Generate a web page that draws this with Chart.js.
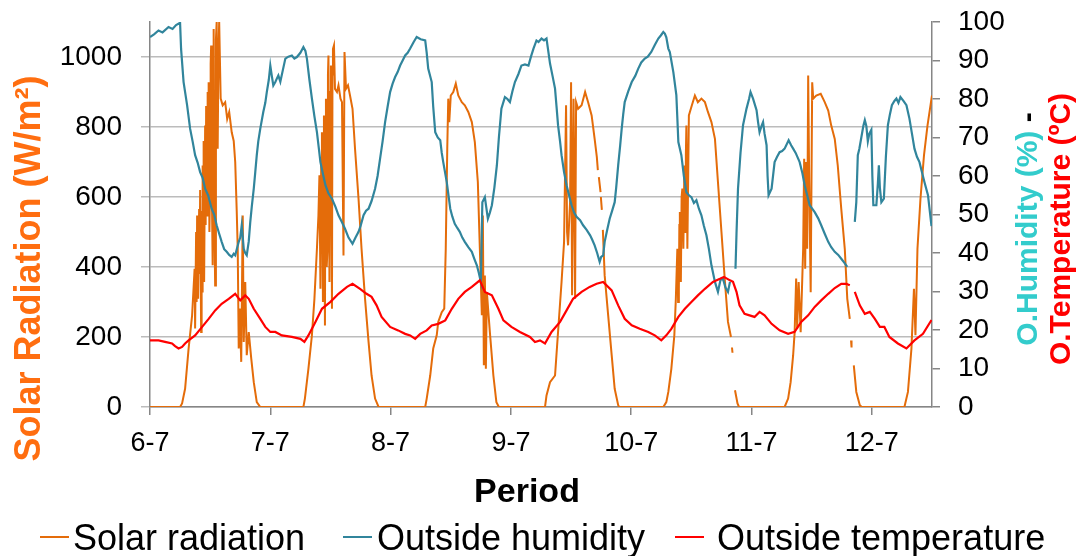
<!DOCTYPE html>
<html><head><meta charset="utf-8">
<script src="https://cdn.jsdelivr.net/npm/chart.js@4/dist/chart.umd.min.js"></script>
<style>html,body{margin:0;padding:0;background:#fff;}canvas{display:block;}</style>
</head><body>
<canvas id="c" width="1079" height="556"></canvas>
<script>
// ---- data (hours from 6-7 00:00, value) ----
const dayLabels = ['6-7','7-7','8-7','9-7','10-7','11-7','12-7'];
const leftTicks = [0,200,400,600,800,1000];
const rightTicks = [0,10,20,30,40,50,60,70,80,90,100];
const seriesNames = ['Solar radiation','Outside humidity','Outside temperature'];

const solarSeries = [
[0,0],[6.0,0],[6.4,10],[7.0,52],[7.7,167],[8.4,262],[8.9,395],[9.0,224],[9.2,500],[9.3,300],[9.4,547],[9.6,309],[9.8,566],[9.9,380],[10.0,620],[10.2,214],[10.3,560],[10.4,330],[10.5,690],[10.6,420],[10.7,760],[10.8,357],[11.0,804],[11.1,520],[11.2,860],[11.4,547],[11.5,900],[11.6,620],[11.7,928],[11.85,500],[12.0,643],[12.1,980],[12.2,1033],[12.35,600],[12.5,405],[12.6,1000],[12.7,1080],[12.85,520],[13.0,347],[13.15,1050],[13.3,1100],[13.5,738],[13.65,1000],[13.8,1100],[14.1,881],[14.5,862],[15.0,871],[15.4,823],[15.8,843],[16.3,785],[16.7,760],[17.0,700],[17.3,560],[17.5,452],[17.7,167],[17.9,281],[18.2,129],[18.5,547],[18.7,186],[19.0,357],[19.3,148],[19.7,214],[20.2,138],[20.7,71],[21.3,14],[22.0,0],
[30.6,0],[30.9,24],[31.6,109],[32.3,205],[32.8,309],[33.3,452],[33.6,547],[33.8,662],[34.0,338],[34.15,700],[34.3,785],[34.5,300],[34.6,760],[34.7,833],[34.9,233],[35.0,800],[35.1,881],[35.25,400],[35.4,452],[35.5,950],[35.6,1004],[35.8,357],[35.95,900],[36.1,976],[36.3,281],[36.4,950],[36.5,1023],[36.7,1033],[36.9,909],[37.3,900],[37.6,919],[38.0,881],[38.3,871],[38.6,433],[38.8,1014],[39.1,909],[39.5,919],[39.9,890],[40.4,852],[40.9,738],[41.6,595],[42.2,452],[42.9,309],[43.6,186],[44.2,90],[44.9,24],[45.6,0],
[54.9,0],[55.2,24],[55.9,90],[56.5,167],[57.2,205],[57.5,243],[58.2,271],[58.7,281],[59.0,452],[59.3,738],[59.5,881],[59.7,814],[60.0,890],[60.5,900],[61.0,924],[61.5,890],[62.2,871],[62.8,862],[63.5,843],[64.2,814],[64.8,757],[65.4,643],[65.8,452],[66.2,262],[66.4,547],[66.6,119],[66.8,376],[67.0,109],[67.2,328],[67.8,214],[68.5,90],[69.1,14],[69.6,0],
[78.8,0],[79.1,33],[79.8,71],[80.8,90],[81.4,214],[82.1,357],[82.6,471],[83.0,862],[83.2,500],[83.4,462],[83.8,585],[84.0,928],[84.2,319],[84.5,881],[84.8,309],[85.0,871],[85.4,852],[86.1,862],[86.8,900],[87.4,871],[88.1,833],[88.7,766],[89.14,714],[89.34,677],[89.44,null],[89.54,657],[89.88,614],[89.91,null],[89.94,600],[90.14,563],[90.24,null],[90.34,506],[90.7,376],[91.4,262],[92.1,148],[92.7,52],[93.4,5],[93.6,0],
[102.4,0],[103.0,14],[103.4,43],[104.0,109],[104.6,205],[104.9,309],[105.2,452],[105.35,300],[105.5,338],[105.6,520],[105.7,557],[105.9,357],[106.05,600],[106.2,624],[106.4,452],[106.6,690],[106.8,500],[106.9,720],[107.0,804],[107.2,452],[107.5,833],[107.7,843],[108.1,862],[108.7,890],[109.3,871],[110.0,881],[110.7,871],[111.3,843],[112.0,814],[112.7,766],[113.3,643],[114.0,500],[114.7,357],[115.3,243],[115.9,200],[116.0,null],[116.1,170],[116.2,155],[116.4,null],[116.7,48],[117.2,10],[117.5,0],
[126.6,0],[127.3,24],[127.8,71],[128.3,148],[128.6,214],[128.9,367],[129.1,224],[129.4,357],[129.8,214],[130.3,452],[130.5,709],[130.7,395],[130.9,700],[131.1,452],[131.3,947],[131.5,643],[131.8,328],[132.1,928],[132.3,881],[132.9,890],[133.8,895],[134.6,871],[135.3,847],[135.9,804],[136.6,766],[137.2,690],[137.9,566],[138.6,452],[139.1,309],[139.6,252],[139.75,null],[139.85,190],[139.95,170],[140.1,null],[140.4,119],[140.9,43],[141.6,5],[142.0,0],
[150.5,0],[151.2,43],[151.9,167],[152.4,338],[152.7,205],[153.1,452],[153.7,595],[154.4,719],[155.1,804],[155.9,881],[156,890]
];

const humiditySeries = [
[0,96.1],[0.8,96.8],[1.7,97.8],[2.5,97.3],[3.7,98.7],[4.5,98.2],[5.2,99.2],[6.0,99.8],[6.2,93],[6.7,84.4],[7.4,78.4],[8.0,72.3],[8.5,69],[9.0,65.4],[9.5,63.5],[10.0,61],[10.5,59.5],[11.0,56.7],[11.6,55],[12.3,51.5],[12.8,50],[13.3,47.2],[13.8,45],[14.3,42.9],[14.8,41],[15.3,40.3],[15.8,39.5],[16.3,39],[16.7,39.8],[17.0,39.4],[17.7,42.9],[18.0,44],[18.3,47.2],[18.7,41.1],[19.0,40],[19.3,39.4],[19.7,43],[20.0,48],[20.3,52],[20.7,56.7],[21.0,61],[21.3,65.4],[21.6,69],[22.0,72.3],[22.6,76.6],[23.0,79],[23.3,81.8],[23.7,85],[24.0,88.7],[24.3,86],[24.6,83.5],[25.0,84.4],[25.3,85.3],[25.6,86.1],[26.0,84.5],[26.5,87.5],[27.0,90.5],[27.6,91],[28.3,91.3],[28.8,90.5],[29.3,90.9],[30.0,92],[30.6,93.5],[31.0,92.5],[31.3,90.5],[31.8,85],[32.3,80.1],[32.8,75.5],[33.3,71.4],[33.7,67],[34.0,63.6],[34.5,60.5],[35.0,57.6],[35.6,55.5],[36.3,54.1],[37.0,52],[37.6,49.8],[38.3,48],[38.9,46.3],[39.6,44],[40.4,42.4],[41.0,44],[41.6,45.5],[42.0,47],[42.6,49.8],[43.1,51],[43.6,51.5],[44.2,53.5],[44.9,56.7],[45.4,60],[45.9,64.5],[46.4,69],[46.9,74],[47.4,78],[47.9,81.8],[48.4,84],[48.9,85.7],[49.4,87],[49.9,88.7],[50.4,90],[50.9,91.3],[51.4,92],[51.9,93.1],[52.6,94.8],[53.2,96.1],[54.0,95.5],[54.9,95.2],[55.2,92],[55.5,87.9],[56.2,84.4],[56.5,78],[56.9,71.4],[57.4,70],[57.9,69.3],[58.2,66],[58.5,63.6],[59.2,58.4],[59.9,51.5],[60.3,49.5],[60.8,47.6],[61.3,46.5],[61.8,45.5],[62.3,44],[62.8,42.9],[63.5,41.5],[64.2,40.3],[64.7,38.5],[65.2,36.8],[65.6,34.8],[66.0,32.5],[66.3,53.2],[66.8,54.5],[67.4,48.9],[67.8,50.5],[68.2,52.4],[68.7,57],[69.2,62.8],[69.6,70],[70.1,77.5],[70.8,80.5],[71.3,80],[71.8,79.2],[72.3,82],[72.8,84.4],[73.5,86.5],[74.1,88.7],[74.8,89],[75.5,88.7],[76.0,91],[76.5,93.1],[77.1,95.2],[77.5,94.8],[78.1,95.7],[78.6,95.2],[79.1,95.7],[79.5,92],[79.8,89.2],[80.3,86],[80.8,82.7],[81.1,78],[81.4,73.2],[81.8,69],[82.1,65.4],[82.6,61],[83.1,57.6],[83.6,55],[84.1,52.4],[84.6,50.5],[85.1,49.4],[85.8,48.5],[86.4,47.2],[87.1,46],[87.8,44.6],[88.2,43.5],[88.7,42],[89.2,40],[89.7,37.7],[90.0,39],[90.4,39.4],[90.7,42.9],[91.2,46],[91.7,48.9],[92.2,51],[92.7,53.2],[93.0,57],[93.4,62.8],[93.8,68],[94.1,72.3],[94.4,76],[94.7,79.2],[95.4,82],[96.1,84.4],[96.8,86],[97.4,87.9],[98.0,89.5],[98.7,90.5],[99.3,91],[100.0,92.2],[100.7,94],[101.4,95.7],[101.9,96.5],[102.4,97.4],[102.7,97],[103.0,96],[103.4,93.1],[103.7,92.2],[104.4,87],[105.0,81],[105.2,75],[105.4,68.8],[106.0,65.4],[106.5,60],[107.0,55.8],[107.5,55],[108.0,54.5],[108.5,53],[109.0,53.7],[109.5,51.5],[110.0,49.8],[110.5,47],[111.0,44.6],[111.5,41],[112.0,36.8],[112.7,32.5],[113.3,29.9],[113.8,33],[114.3,33.3],[114.8,31],[115.3,29.9],[115.7,32.5],[116.2,null],[116.8,35.9],[117.0,45],[117.3,56.7],[117.8,66],[118.3,73.2],[119.0,77.5],[119.5,80],[119.8,81.8],[120.3,80.1],[121.0,77.1],[121.3,74],[121.6,71.4],[122.0,73],[122.3,74],[122.6,71],[123.0,68],[123.2,60],[123.4,55],[124.0,56.7],[124.6,63.6],[125.1,65],[125.6,66.2],[126.1,66.5],[126.6,67.1],[127.4,69.3],[127.9,68],[128.3,67.1],[128.8,66],[129.3,64.5],[129.6,63.6],[130.1,61],[130.6,57.6],[131.1,55],[131.6,52.4],[132.1,51.5],[132.6,50.6],[133.3,49],[133.9,47.2],[134.6,45],[135.3,42.9],[135.9,41.5],[136.6,40.3],[137.3,39.5],[137.9,38.5],[138.5,37.5],[139.1,36.4],[139.8,null],[140.6,48.1],[140.9,53.2],[141.2,65.4],[141.5,67],[141.9,70],[142.3,73],[142.6,74.5],[142.9,73],[143.2,69],[143.5,71],[143.9,72],[144.1,60],[144.3,52.4],[144.9,52.4],[145.2,58],[145.4,62.8],[145.6,57],[145.9,53.2],[146.4,54.1],[146.8,65],[147.2,73.2],[147.6,76],[148.0,78.4],[148.5,79.5],[148.9,80.1],[149.3,79],[149.7,80.5],[150.3,79.5],[150.9,78.4],[151.5,74.9],[152.0,71],[152.5,67.1],[153.0,65],[153.5,63.6],[154.0,61],[154.5,58.4],[155.2,55],[155.9,47]
];

const temperatureSeries = [
[0,17.3],[1.7,17.3],[3.0,16.9],[4.4,16.5],[5.0,15.8],[5.7,15.2],[6.4,15.6],[7.0,16.5],[7.7,17.3],[9.0,18.6],[10.4,20.8],[11.7,22.9],[13.0,25.1],[14.3,26.8],[15.7,28.1],[17.0,29.4],[18.0,27.7],[19.0,29],[19.7,28.1],[20.7,25.5],[22.0,22.9],[23.0,20.8],[24.0,19.5],[25.0,19.5],[26.3,18.6],[28.3,18.2],[30.0,17.7],[30.8,16.9],[31.6,18.6],[33.0,22.1],[34.3,25.5],[36.0,27.3],[37.6,29.4],[39.3,31.2],[40.4,32],[41.9,30.7],[43.2,29.4],[44.2,28.6],[45.2,26.4],[46.2,23.4],[47.9,20.8],[49.5,19.9],[50.9,19],[51.9,18.6],[52.9,17.7],[53.9,19],[55.2,19.9],[56.2,21.2],[57.5,21.6],[58.9,22.5],[60.2,25.5],[61.5,28.1],[62.8,29.9],[64.2,31.2],[65.8,32.9],[66.8,29.9],[68.2,29],[69.5,25.5],[70.5,22.5],[72.1,20.8],[73.8,19.5],[75.8,18.2],[76.8,16.9],[77.8,17.3],[78.8,16.5],[80.1,19.5],[81.8,22.1],[83.1,25.1],[84.4,28.1],[86.1,29.9],[87.7,31.2],[89.1,32],[90.4,32.5],[92.1,30.3],[93.4,26.4],[94.7,22.9],[96.1,21.2],[97.7,20.3],[99.4,19.5],[100.7,18.6],[102.0,17.3],[103.0,18.6],[104.0,20.3],[105.4,23.4],[106.7,25.5],[108.0,27.3],[109.3,29],[110.7,30.7],[112.3,32.5],[113.7,33.3],[114.5,33.8],[115.7,32.9],[116.3,32.5],[117.0,29.9],[117.6,26.4],[118.6,24.2],[119.6,23.8],[120.6,23.4],[121.6,24.7],[122.6,23.8],[124.0,21.6],[125.6,19.9],[127.3,19],[128.6,19.5],[129.9,22.1],[131.3,23.8],[132.6,26],[133.9,27.7],[135.3,29.4],[136.6,30.9],[137.9,32],[138.9,32],[139.6,31.6],[140.1,null],[140.6,29.9],[141.6,26.4],[142.6,24.2],[143.6,24.7],[144.6,22.9],[145.6,20.8],[146.5,20.8],[147.5,18.2],[149.2,16.5],[150.9,15.2],[152.5,17.3],[154.2,19],[155.9,22.6]
];

const seriesColors = ['#E46C0A','#31859C','#FF0000'];

// ---- chart ----
const FONT = '"Liberation Sans", Arial, Helvetica, sans-serif';
const toPoints = arr => arr.map(p => ({x: p[0], y: p[1]}));
const noPad = s => { s.paddingTop = 0; s.paddingBottom = 0; s.paddingLeft = 0; s.paddingRight = 0; };

const titlePlugin = {
  id: 'titlesAndLegend',
  afterDraw(chart) {
    const ctx = chart.ctx;
    ctx.save();
    ctx.translate(40, 268.5);
    ctx.rotate(-Math.PI / 2);
    ctx.font = 'bold 36px ' + FONT;
    ctx.fillStyle = '#FF6E10';
    ctx.textAlign = 'center';
    ctx.textBaseline = 'alphabetic';
    ctx.fillText('Solar Radiation (W/m\u00B2)', 0, 0);
    ctx.restore();

    const drawParts = (bx, cy, parts) => {
      ctx.save();
      ctx.translate(bx, cy);
      ctx.rotate(-Math.PI / 2);
      ctx.font = 'bold 30px ' + FONT;
      ctx.textBaseline = 'alphabetic';
      ctx.textAlign = 'left';
      const total = parts.reduce((s, p) => s + ctx.measureText(p[0]).width, 0);
      let x = -total / 2;
      parts.forEach(p => { ctx.fillStyle = p[1]; ctx.fillText(p[0], x, 0); x += ctx.measureText(p[0]).width; });
      ctx.restore();
    };
    drawParts(1037, 229, [['O.Humidity (%)', '#33CCCC'], [' -', '#000000']]);
    drawParts(1070, 229, [['O.Temperature (\u00BAC)', '#FF0000']]);

    ctx.save();
    ctx.font = 'bold 34px ' + FONT;
    ctx.fillStyle = '#000';
    ctx.textAlign = 'center';
    ctx.textBaseline = 'alphabetic';
    ctx.fillText('Period', 527, 502);
    ctx.restore();

    ctx.save();
    ctx.font = '36px ' + FONT;
    ctx.textBaseline = 'alphabetic';
    ctx.textAlign = 'left';
    const items = [[40, 73], [343, 377], [675, 717]];
    chart.data.datasets.forEach((ds, i) => {
      const [lx, tx] = items[i];
      ctx.strokeStyle = ds.borderColor;
      ctx.lineWidth = 2;
      ctx.beginPath();
      ctx.moveTo(lx, 537);
      ctx.lineTo(lx + 29, 537);
      ctx.stroke();
      ctx.fillStyle = '#000';
      ctx.fillText(ds.label, tx, 550);
    });
    ctx.restore();
  }
};

new Chart(document.getElementById('c'), {
  type: 'line',
  data: {
    datasets: [
      {label: seriesNames[0], data: toPoints(solarSeries), yAxisID: 'yS', borderColor: seriesColors[0], backgroundColor: seriesColors[0], borderWidth: 2, pointRadius: 0, tension: 0, spanGaps: false, order: 2},
      {label: seriesNames[1], data: toPoints(humiditySeries), yAxisID: 'yR', borderColor: seriesColors[1], backgroundColor: seriesColors[1], borderWidth: 2.2, pointRadius: 0, tension: 0, spanGaps: false, order: 1},
      {label: seriesNames[2], data: toPoints(temperatureSeries), yAxisID: 'yR', borderColor: seriesColors[2], backgroundColor: seriesColors[2], borderWidth: 2.2, pointRadius: 0, tension: 0, spanGaps: false, order: 0}
    ]
  },
  options: {
    responsive: false,
    animation: false,
    devicePixelRatio: 1,
    layout: {padding: {top: 22, left: 0, right: 0, bottom: 0}},
    plugins: {legend: {display: false}, tooltip: {enabled: false}},
    scales: {
      x: {
        type: 'linear', min: 0, max: 156,
        afterFit: s => { s.height = 149; noPad(s); },
        afterBuildTicks: s => { s.ticks = dayLabels.map((_, i) => ({value: i * 24})); },
        ticks: {autoSkip: false, maxRotation: 0, includeBounds: false, padding: 12, color: '#000',
                font: {family: FONT, size: 27}, callback: (v) => dayLabels[Math.round(v / 24)]},
        grid: {drawOnChartArea: false, drawTicks: true, tickLength: 8, color: '#868686', lineWidth: 1.5},
        border: {color: '#868686', width: 1.5}
      },
      yS: {
        position: 'left', min: 0, max: 1100,
        afterFit: s => { s.width = 150; noPad(s); },
        afterBuildTicks: s => { s.ticks = leftTicks.map(v => ({value: v})); },
        ticks: {padding: 19, color: '#000', font: {family: FONT, size: 28}, callback: v => String(v)},
        grid: {color: '#BCBCBC', lineWidth: 1.5, tickLength: 9},
        border: {color: '#868686', width: 1.5}
      },
      yR: {
        position: 'right', min: 0, max: 100,
        afterFit: s => { s.width = 147; noPad(s); },
        afterBuildTicks: s => { s.ticks = rightTicks.map(v => ({value: v})); },
        ticks: {padding: 18, color: '#000', font: {family: FONT, size: 28}, callback: v => String(v)},
        grid: {drawOnChartArea: false, tickLength: 8, color: '#868686', lineWidth: 1.5},
        border: {color: '#868686', width: 1.5}
      }
    }
  },
  plugins: [titlePlugin]
});
</script>
</body></html>
